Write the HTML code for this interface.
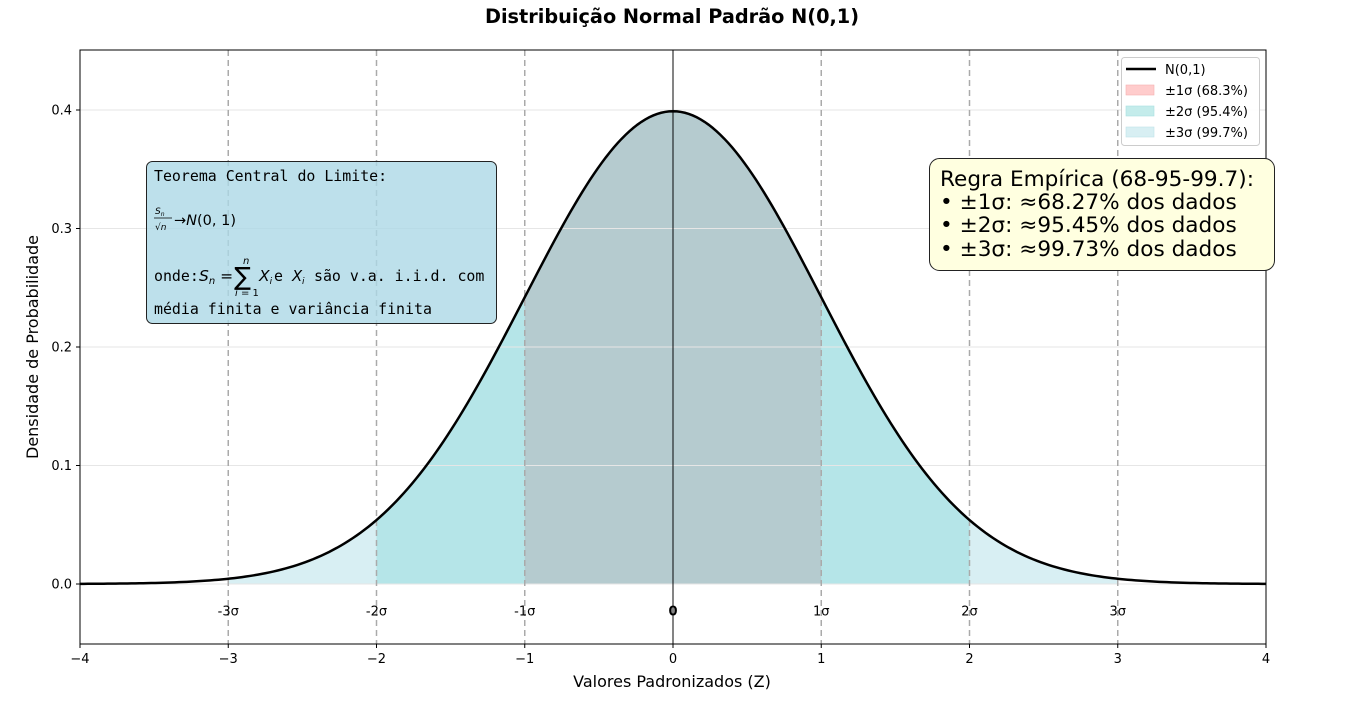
<!DOCTYPE html>
<html><head><meta charset="utf-8"><style>
body{margin:0;background:#fff;}
svg text{font-family:"DejaVu Sans","Liberation Sans",sans-serif;}
.mono{font-family:"DejaVu Sans Mono","Liberation Mono",monospace;}
</style></head><body>
<svg id="chart" width="1360" height="698" viewBox="0 0 1360 698" xmlns="http://www.w3.org/2000/svg">
<text x="672" y="23" text-anchor="middle" font-size="19.3" font-weight="bold">Distribuição Normal Padrão N(0,1)</text>
<g id="fills"></g>
<g id="grid"></g>
<g id="vlines"></g>
<path id="curve" fill="none" stroke="#000" stroke-width="2.5"/>
<rect x="80" y="50" width="1186" height="594" fill="none" stroke="#000" stroke-width="1"/>
<g id="xticks"></g><g id="yticks"></g><g id="siglabels"></g>
<text x="672" y="687" text-anchor="middle" font-size="16">Valores Padronizados (Z)</text>
<text transform="translate(38,347) rotate(-90)" text-anchor="middle" font-size="16">Densidade de Probabilidade</text>
<g>
<rect x="146.5" y="161.5" width="350" height="162" rx="6" fill="#add8e6" fill-opacity="0.8" stroke="#222" stroke-width="1"/>
<text class="mono" x="154" y="181" font-size="14.9">Teorema Central do Limite:</text>
<text x="155" y="214" font-size="9" font-style="italic">S<tspan font-size="6" dy="2">n</tspan></text>
<line x1="154" y1="218" x2="172" y2="218" stroke="#000" stroke-width="0.8"/>
<text x="155" y="230" font-size="9">√<tspan font-style="italic">n</tspan></text>
<text x="174" y="225" font-size="14.5">→<tspan font-style="italic">N</tspan>(0, 1)</text>
<text class="mono" x="154" y="281" font-size="14.9">onde:</text>
<text x="199" y="281" font-size="15.5"><tspan font-style="italic">S</tspan><tspan font-size="10" font-style="italic" dy="3">n</tspan><tspan dy="-3"> = </tspan></text>
<text x="234" y="285" font-size="25">∑</text>
<text x="243" y="264" font-size="10" font-style="italic">n</text>
<text x="235" y="296" font-size="10"><tspan font-style="italic">i</tspan> = 1</text>
<text x="259" y="281" font-size="15.5" font-style="italic">X<tspan font-size="9" dy="3">i</tspan></text>
<text class="mono" x="274" y="281" font-size="14.9">e <tspan font-family="DejaVu Sans" font-style="italic">X</tspan></text>
<text x="302" y="284" font-size="9" font-style="italic">i</text>
<text class="mono" x="314" y="281" font-size="14.9">são v.a. i.i.d. com</text>
<text class="mono" x="154" y="314" font-size="14.9">média finita e variância finita</text>
</g>
<g>
<rect x="929.5" y="158.5" width="345" height="112" rx="10" fill="#ffffe0" stroke="#222" stroke-width="1"/>
<text x="940" y="186" font-size="21.6">Regra Empírica (68-95-99.7):</text>
<text x="940" y="209" font-size="21.6">• ±1σ: ≈68.27% dos dados</text>
<text x="940" y="232" font-size="21.6">• ±2σ: ≈95.45% dos dados</text>
<text x="940" y="256" font-size="21.6">• ±3σ: ≈99.73% dos dados</text>
</g>
<g>
<rect x="1121.5" y="57.5" width="138" height="88" rx="3" fill="#fff" fill-opacity="0.85" stroke="#ccc"/>
<line x1="1126" y1="69" x2="1156" y2="69" stroke="#000" stroke-width="2.5"/>
<text x="1165" y="74" font-size="13">N(0,1)</text>
<rect x="1126" y="85" width="28" height="10" fill="#ffcccc" stroke="#f4b0b0" stroke-width="0.6"/>
<text x="1165" y="95" font-size="13">±1σ (68.3%)</text>
<rect x="1126" y="106" width="28" height="10" fill="#c4eceb" stroke="#a8e0df" stroke-width="0.6"/>
<text x="1165" y="116" font-size="13">±2σ (95.4%)</text>
<rect x="1126" y="127" width="28" height="10" fill="#d8eff3" stroke="#bfe3ea" stroke-width="0.6"/>
<text x="1165" y="137" font-size="13">±3σ (99.7%)</text>
</g>
</svg>
<script>
const mean = 0;
const stdDev = 1;
const sigmaLevels = [3, 2, 1];
const sigmaColors = ["#d8eff3", "#b5e5e8", "#b5cbcf"];
const xTicks = [-4, -3, -2, -1, 0, 1, 2, 3, 4];
const yTicks = [0.0, 0.1, 0.2, 0.3, 0.4];
const sigmaLabels = ["-3σ", "-2σ", "-1σ", "0", "1σ", "2σ", "3σ"];
const sigmaPositions = [-3, -2, -1, 0, 1, 2, 3];

const NS = "http://www.w3.org/2000/svg";
const X = v => 80 + (v + 4) * 1186 / 8;
const Y = v => 584 - v * 1185;
const pdf = z => Math.exp(-0.5 * ((z - mean) / stdDev) ** 2) / (stdDev * Math.sqrt(2 * Math.PI));
function mk(tag, attrs, parent) { const e = document.createElementNS(NS, tag); for (const k in attrs) e.setAttribute(k, attrs[k]); document.getElementById(parent).appendChild(e); return e; }
function curvePath(a, b) { let d = ""; const n = 300; for (let i = 0; i <= n; i++) { const x = a + (b - a) * i / n; d += (i ? "L" : "M") + X(x).toFixed(2) + "," + Y(pdf(x)).toFixed(2); } return d; }

sigmaLevels.forEach((s, i) => {
  const p = mk("path", { d: curvePath(-s, s) + "L" + X(s) + "," + Y(0) + "L" + X(-s) + "," + Y(0) + "Z", fill: sigmaColors[i] }, "fills");
  
  
});
document.getElementById("curve").setAttribute("d", curvePath(-4, 4));

yTicks.forEach(v => {
  const g = mk("line", { x1: 80, x2: 1266, y1: Y(v), y2: Y(v), stroke: "#e6e6e6", "stroke-width": 1 }, "grid");
  
  
  mk("line", { x1: 76, x2: 80, y1: Y(v), y2: Y(v), stroke: "#000" }, "yticks");
  const t = mk("text", { x: 72, y: Y(v) + 4.5, "text-anchor": "end", "font-size": 13 }, "yticks");
  t.textContent = v.toFixed(1);
  
  
});
xTicks.forEach(v => {
  mk("line", { x1: X(v), x2: X(v), y1: 644, y2: 648, stroke: "#000" }, "xticks");
  const t = mk("text", { x: X(v), y: 663, "text-anchor": "middle", "font-size": 13 }, "xticks");
  t.textContent = v < 0 ? "−" + Math.abs(v) : String(v);
  
  
});
sigmaPositions.forEach((v, i) => {
  const l = mk("line", { x1: X(v), x2: X(v), y1: 50, y2: 644, stroke: v === 0 ? "#000" : "#aaa", "stroke-width": v === 0 ? 1.2 : 1.5, "stroke-dasharray": v === 0 ? "none" : "6,4", "stroke-opacity": v === 0 ? 0.8 : 1 }, "vlines");
  
  
  const t = mk("text", { x: X(v), y: Y(-0.0265), "text-anchor": "middle", "font-size": 13, "font-weight": v === 0 ? "bold" : "normal" }, "siglabels");
  t.textContent = sigmaLabels[i];
  
  
});
</script>
</body></html>
